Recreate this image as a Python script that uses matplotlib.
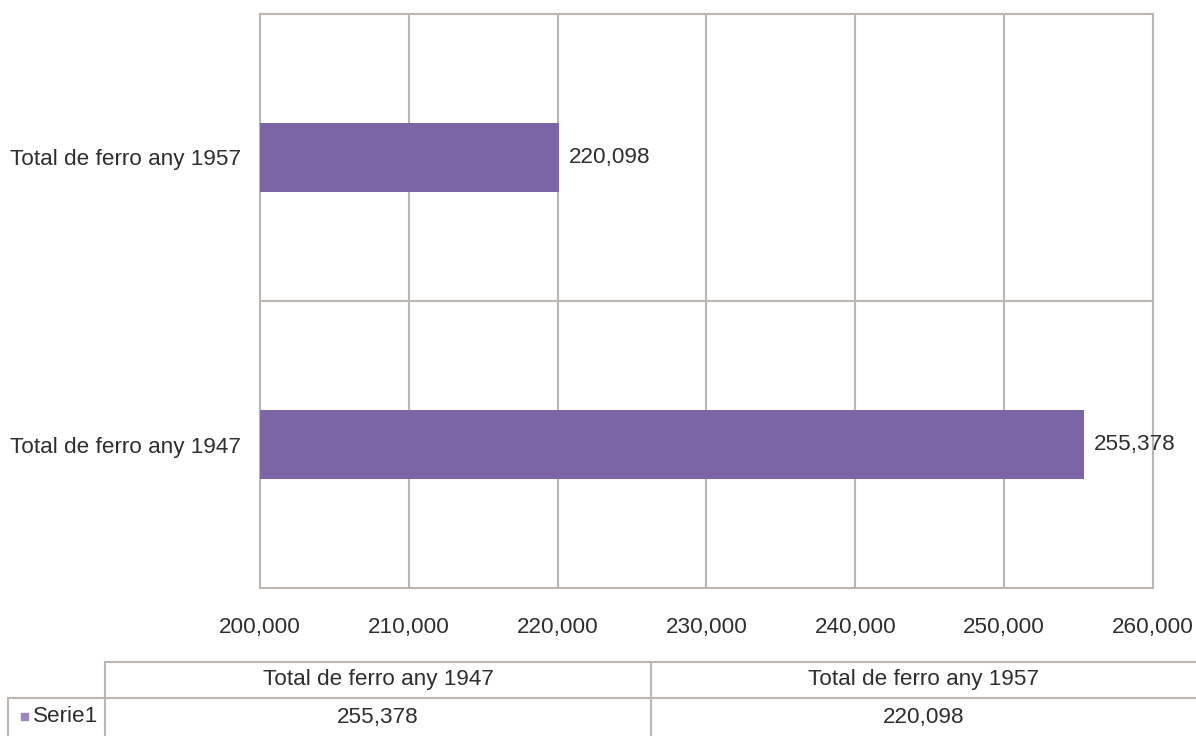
import matplotlib
matplotlib.use("Agg")
import matplotlib.pyplot as plt
from matplotlib.lines import Line2D
from matplotlib.patches import Rectangle

categories = ["Total de ferro any 1947", "Total de ferro any 1957"]
values = [255378, 220098]
series_name = "Serie1"
xticks = [200000, 210000, 220000, 230000, 240000, 250000, 260000]

BAR = "#7b65a6"
GRID = "#bdb5b0"
TXT = "#2e2e2e"
FONT = "Liberation Sans"
FS = 16.2

def fmt(v):
    return f"{v:,}"

W, H = 1196, 736
fig = plt.figure(figsize=(W / 100, H / 100), dpi=100)
fig.patch.set_facecolor("white")

ax = fig.add_axes([260 / W, 1 - 588 / H, (1153 - 260) / W, (588 - 14) / H])
ax.barh(range(len(categories)), values, height=0.24, color=BAR, zorder=3)
ax.set_xlim(xticks[0], xticks[-1])
ax.set_ylim(-0.5, len(categories) - 0.5)
ax.set_xticks(xticks)
ax.set_xticklabels([fmt(t) for t in xticks], fontsize=FS, color=TXT, family=FONT)
ax.set_yticks(range(len(categories)))
ax.set_yticklabels(categories, fontsize=FS, color=TXT, family=FONT)
ax.tick_params(axis="both", length=0)
ax.tick_params(axis="x", pad=21)
ax.tick_params(axis="y", pad=14)
for t in xticks[1:-1]:
    ax.axvline(t, color=GRID, lw=1.5, zorder=1)
for k in range(len(categories) - 1):
    ax.axhline(k + 0.5, color=GRID, lw=1.5, zorder=1)
for s in ax.spines.values():
    s.set_color(GRID)
    s.set_linewidth(1.5)
for i, v in enumerate(values):
    ax.annotate(fmt(v), (v, i), xytext=(7, 0), textcoords="offset points",
                va="center", ha="left", fontsize=FS, color=TXT, family=FONT, zorder=4)

# data table below
def fx(px):
    return px / W
def fy(py):
    return 1 - py / H

lk = dict(color=GRID, lw=1.5, transform=fig.transFigure)
fig.add_artist(Line2D([fx(105), fx(1196)], [fy(662), fy(662)], **lk))
fig.add_artist(Line2D([fx(8), fx(1196)], [fy(698), fy(698)], **lk))
fig.add_artist(Line2D([fx(105), fx(105)], [fy(662), fy(736)], **lk))
fig.add_artist(Line2D([fx(651), fx(651)], [fy(662), fy(736)], **lk))
fig.add_artist(Line2D([fx(8), fx(8)], [fy(698), fy(736)], **lk))

col_edges = [105, 651, 1197]
for j, cat in enumerate(categories):
    cx = (col_edges[j] + col_edges[j + 1]) / 2
    fig.text(fx(cx), fy(680), cat, ha="center", va="center", fontsize=FS,
             color=TXT, family=FONT)
    fig.text(fx(cx), fy(718), fmt(values[j]), ha="center", va="center", fontsize=FS,
             color=TXT, family=FONT)

fig.add_artist(Rectangle((fx(21), fy(720)), 7 / W, 7 / H, color="#9b86c4",
                         transform=fig.transFigure))
fig.text(fx(33), fy(717), series_name, ha="left", va="center", fontsize=FS,
         color=TXT, family=FONT)

fig.savefig("out.png", dpi=100, facecolor="white")
